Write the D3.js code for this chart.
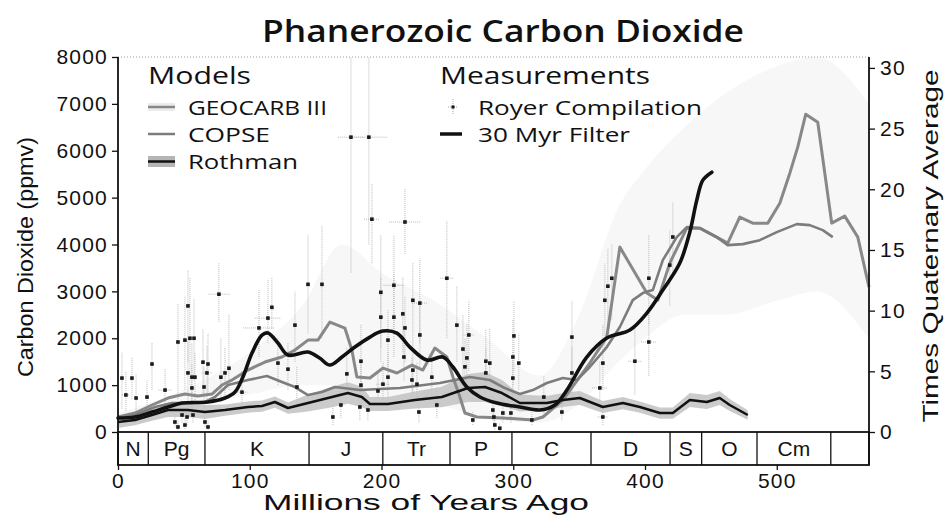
<!DOCTYPE html>
<html>
<head>
<meta charset="utf-8">
<script src="https://cdn.jsdelivr.net/npm/d3@7/dist/d3.min.js"></script>
<style>
  body { margin: 0; background: #fff; }
  text { fill: #111; }
  .tick text { font-family: "Liberation Sans", Arial, sans-serif; font-size: 21px; }
</style>
</head>
<body>
<svg id="chart" width="947" height="516"></svg>
<script>
// ---- data ----
var geoAge = [0,12.9,25.8,37.9,50.8,60.7,71.3,78.9,86.5,98.6,111.5,124.4,134.3,144.2,151.7,160.8,172.2,177.5,181.3,191.2,201.1,211.7,223.1,231.4,240.5,249.6,254.2,259.5,263.3,272.4,292.1,314.9,322.5,337.6,358.1,371,380.9,401.4,409.7,418.8,431.7,441.6,462.8,471.9,481.8,493.2,502.3,509.9,515.9,522,531.1,541.7,551.6,561.5,570];
var geoCO2 = [320,405,576,725,810,768,810,1002,1109,1322,1492,1599,1748,1961,1961,2345,2217,1748,1173,1151,1364,1258,1428,1322,1791,1599,1173,746,405,320,298,256,320,682,1471,2025,3944,2963,2814,3603,4349,4349,4029,4584,4456,4456,4882,5522,6076,6780,6609,4456,4605,4157,3091];

var copseAge = [0,12.9,28.1,41,56.1,66,73.6,83.5,98.6,113,124.4,134.3,144.2,154.8,164.6,183.6,214,244.3,267.1,282.2,293.6,305,314.9,325.5,337.6,348.3,358.1,371,380.9,390.7,398.3,405.9,413.5,424.1,431.7,441.6,454.5,462.8,474.2,487.1,500,515.2,525,534.9,542.5];
var copseCO2 = [298,362,533,618,618,640,746,1002,1109,1194,1066,959,789,853,959,895,938,1045,1173,1109,938,810,895,1045,1151,1109,1386,1812,2239,2814,2963,3027,3667,4157,4371,4349,4157,3987,4008,4093,4264,4435,4413,4307,4157];

var rothAge = [0,12.9,25.8,37.9,53.1,66,81.2,98.6,109.3,119.1,129,144.2,162.4,174.5,185.1,191.2,204.9,225.3,245.8,265.6,278.5,291.4,305,325.5,337.6,350.5,368,383.2,396.1,411.2,421.1,434,446.9,456.7,464.3,478];
var rothCO2 = [213,256,362,469,469,426,469,533,554,640,512,618,746,831,746,597,597,682,746,938,959,831,618,618,682,725,533,618,533,405,405,682,640,725,576,362];
var rothErr = [130,110,120,150,150,150,120,120,120,120,120,180,220,230,220,150,150,180,220,300,320,280,180,150,150,150,130,130,120,120,120,150,150,150,130,100];

var filtAge = [0,12.9,25.8,37.9,48.6,68.3,81.2,88.8,94.8,101.7,109.3,113.8,121.4,129,144.2,153,160.8,170,179.8,191.2,201,211.7,221.5,234.4,246.6,254.2,264.8,274.7,287.6,305,320.2,331.6,340.7,355.8,371,388.5,401.4,413.5,426.4,434,439.3,443.9,450.7];
var filtCO2 = [298,320,426,533,618,640,725,853,1173,1684,2068,2111,1897,1642,1706,1578,1428,1600,1812,2025,2153,2111,1812,1535,1599,1386,959,746,618,533,469,576,895,1599,2004,2175,2537,3027,3603,4264,4946,5373,5543];

// faint GEOCARB uncertainty envelope
var envAge = [0,50,100,140,170,200,240,280,320,350,380,400,430,460,500,530,570];
var envLo  = [250,500,800,1000,1000,700,600,300,200,600,1500,2000,2500,2500,2800,3000,2000];
var envHi  = [400,900,1700,2700,4000,3400,2800,2000,1200,2500,4800,5600,6500,7200,7800,8000,7000];

// Royer compilation: [age, co2, low, high, age error]
var royer = [
  [3,1150,500,1700,0],[10.6,1150,700,1600,0],[6,790,450,1300,3],[13.7,725,400,1250,0],[22,745,450,1100,0],
  [25.8,1450,900,1900,0],[35.7,895,550,1350,5],[45.5,1920,700,2750,0],[50.8,1960,900,2900,0],[53.1,2690,1500,3450,0],
  [54.6,2000,1000,3300,0],[57.7,2000,1100,2850,0],[53.1,1260,650,2000,0],[56.1,1170,500,1900,0],[58.4,1170,600,1700,0],
  [56.1,940,450,1450,0],[64.5,1490,800,2200,0],[68.3,1450,850,2100,0],[65.3,960,500,1400,0],[67.5,1260,700,1850,4],
  [76.6,2940,2350,3600,8],[78.1,1170,650,2000,0],[81.2,1260,700,1800,0],[84.2,1360,900,2500,0],[94.1,850,600,1300,4],
  [107,2220,1600,3050,12],[113.8,2430,1900,3250,10],[116.8,2660,2200,3300,0],[121.4,1470,1000,2000,0],[129,1340,900,1900,0],
  [134.3,2280,1500,3000,0],[135.8,960,600,1400,0],[144.2,3150,2100,4200,0],[154.8,3150,2000,4400,0],[176.8,6290,3400,8000,10],
  [190.4,6290,4000,8000,14],[192.7,4540,3600,5300,6],[217.8,4480,3800,5200,12],[249.6,3280,2000,4500,5],[199.5,2980,1800,4200,0],
  [209.4,3130,2200,4200,8],[199.5,2450,1500,3300,0],[209.4,2450,1600,3400,0],[216.2,2520,1700,3300,0],[223.8,2810,2000,3600,0],
  [229.1,2750,1900,3700,6],[217.8,2220,1500,2900,0],[204.9,1960,1300,2600,0],[217,1600,1100,2200,0],[184.4,1510,900,2300,0],
  [173.7,1240,800,1800,0],[184.4,1000,600,1500,0],[201.1,1020,600,1500,5],[197.3,875,500,1300,0],[204.9,1170,700,1700,0],
  [223.8,1320,800,2000,0],[223.1,1110,700,1600,0],[226.9,1020,600,1500,0],[238.2,1170,700,1700,0],[229.1,2070,1400,2800,0],
  [257.2,2280,1500,3100,0],[266.3,2070,1300,2800,4],[261.8,1770,1100,2500,0],[264.8,1580,1000,2300,0],[263.3,1390,900,2000,0],
  [279.2,1510,1000,2200,0],[282.2,1470,900,2200,0],[279.2,1260,800,1800,0],[300.5,2050,1300,2800,0],[299.7,1600,1000,2400,0],
  [304.2,1470,900,2100,0],[299.7,1150,700,1700,0],[163.1,320,150,600,0],[169.2,576,300,900,0],[183.6,533,250,900,0],
  [189.7,469,250,800,0],[228.4,426,200,800,0],[242,576,300,950,0],[269.3,256,150,450,0],[284.5,469,250,800,0],
  [285.3,320,150,550,0],[292.1,405,200,700,0],[298.2,405,200,650,0],[286,150,60,300,0],[289.8,80,30,200,0],
  [314.1,256,150,450,0],[344.5,2025,1100,2800,0],[344.5,1260,800,1800,0],[323.2,746,400,1200,0],[336.9,426,250,700,0],
  [365.7,940,500,1500,6],[368,1470,900,2300,0],[368,320,150,500,4],[371.8,3110,2000,3900,0],[374.8,3280,2400,4000,0],
  [369.5,2810,1800,3600,0],[392.3,1510,800,2300,5],[402.9,1920,1200,2600,6],[402.9,3280,2300,4200,0],[421.1,4160,3400,4900,0],
  [418.8,3560,2700,4300,0],[43.2,213,100,400,0],[45.5,107,50,250,0],[50.8,149,60,300,0],[52.4,320,150,500,0],
  [56.9,362,200,550,0],[66,213,100,400,0],[68.3,107,50,250,0],[48.6,362,200,550,0]
];

var periodNames  = ["N","Pg","K","J","Tr","P","C","D","S","O","Cm"];
var periodStarts = [0,23,66,145,201,252,299,359,419,443,485,541];

var xTicks = [0,100,200,300,400,500];
var yTicks = [0,1000,2000,3000,4000,5000,6000,7000,8000];
var rTicks = [0,5,10,15,20,25,30];

// ---- scales ----
var svg = d3.select("#chart");
var x = d3.scaleLinear().domain([0, 570]).range([118, 869]);
var y = d3.scaleLinear().domain([0, 8000]).range([432, 57]);
var yR = d3.scaleLinear().domain([0, 30.9]).range([432, 57]);
var boxBottom = 465;

function pts(a, b) { return a.map(function(d, i){ return [d, b[i]]; }); }
var line = d3.line().x(function(d){ return x(d[0]); }).y(function(d){ return y(d[1]); });

// faint envelope
svg.append("path")
  .datum(envAge.map(function(d,i){ return [d, envLo[i], envHi[i]]; }))
  .attr("d", d3.area().curve(d3.curveMonotoneX)
      .x(function(d){ return x(d[0]); })
      .y0(function(d){ return y(d[1]); })
      .y1(function(d){ return y(d[2]); }))
  .attr("fill", "#f7f7f7");

// top dotted border
svg.append("line").attr("x1", x(0)).attr("x2", x(570)).attr("y1", 57).attr("y2", 57)
  .attr("stroke", "#999").attr("stroke-dasharray", "1,2");

// royer error bars
var eb = svg.append("g").attr("stroke", "#b8b8b8").attr("stroke-width", 1).attr("stroke-dasharray", "1,1");
royer.forEach(function(r){
  eb.append("line").attr("x1", x(r[0])).attr("x2", x(r[0])).attr("y1", y(r[2])).attr("y2", y(r[3]));
  if (r[4] > 0) {
    eb.append("line").attr("x1", x(r[0]-r[4])).attr("x2", x(r[0]+r[4])).attr("y1", y(r[1])).attr("y2", y(r[1]));
  }
});

// rothman band
svg.append("path")
  .datum(rothAge.map(function(d,i){ return [d, rothCO2[i], rothErr[i]]; }))
  .attr("d", d3.area()
      .x(function(d){ return x(d[0]); })
      .y0(function(d){ return y(d[1]-d[2]); })
      .y1(function(d){ return y(d[1]+d[2]); }))
  .attr("fill", "#c2c2c2").attr("opacity", 0.85);

// model lines
svg.append("path").datum(pts(geoAge, geoCO2)).attr("d", line)
  .attr("fill", "none").attr("stroke", "#888").attr("stroke-width", 3).attr("stroke-linejoin", "round");
svg.append("path").datum(pts(copseAge, copseCO2)).attr("d", line)
  .attr("fill", "none").attr("stroke", "#7c7c7c").attr("stroke-width", 2.6).attr("stroke-linejoin", "round");
svg.append("path").datum(pts(rothAge, rothCO2)).attr("d", line)
  .attr("fill", "none").attr("stroke", "#111").attr("stroke-width", 2.5).attr("stroke-linejoin", "round");

// royer points
svg.append("g").selectAll("rect").data(royer).enter().append("rect")
  .attr("x", function(d){ return x(d[0]) - 1.8; })
  .attr("y", function(d){ return y(d[1]) - 1.8; })
  .attr("width", 3.6).attr("height", 3.6).attr("fill", "#1a1a1a");

// 30 Myr filter
svg.append("path").datum(pts(filtAge, filtCO2))
  .attr("d", line.curve(d3.curveCatmullRom.alpha(0.5)))
  .attr("fill", "none").attr("stroke", "#111").attr("stroke-width", 3.6).attr("stroke-linecap", "round");

// period box
var pb = svg.append("g");
pb.append("rect").attr("x", x(0)).attr("y", y(0)).attr("width", x(570) - x(0)).attr("height", boxBottom - y(0))
  .attr("fill", "none").attr("stroke", "#111").attr("stroke-width", 1.8);
periodStarts.slice(1).forEach(function(s){
  pb.append("line").attr("x1", x(s)).attr("x2", x(s)).attr("y1", y(0)).attr("y2", boxBottom)
    .attr("stroke", "#111").attr("stroke-width", 1.3);
});
periodNames.forEach(function(n, i){
  pb.append("text").attr("x", (x(periodStarts[i]) + x(periodStarts[i+1])) / 2).attr("y", 456)
    .attr("text-anchor", "middle")
    .style("font-family", "Liberation Sans, Arial, sans-serif").style("font-size", "21px")
    .text(n);
});

// axes
var ax = svg.append("g").attr("transform", "translate(" + x(0) + ",0)")
  .call(d3.axisLeft(y).tickValues(yTicks).tickFormat(d3.format("d")).tickSize(6).tickSizeOuter(0).tickPadding(4));
var ar = svg.append("g").attr("transform", "translate(" + x(570) + ",0)")
  .call(d3.axisRight(yR).tickValues(rTicks).tickFormat(d3.format("d")).tickSize(6).tickSizeOuter(0).tickPadding(5));
var ab = svg.append("g").attr("transform", "translate(0," + boxBottom + ")")
  .call(d3.axisBottom(x).tickValues(xTicks).tickFormat(d3.format("d")).tickSize(5).tickSizeOuter(0).tickPadding(3));
ab.select(".domain").remove();
[ax, ar].forEach(function(g){
  g.select(".domain").attr("stroke", "#111").attr("stroke-width", 1.8)
    .attr("d", "M0,57V" + boxBottom);
});
svg.selectAll(".tick line").attr("stroke", "#111").attr("stroke-width", 1.3);
svg.selectAll(".tick text").attr("fill", "#111").style("letter-spacing", "1.2px");

// titles
svg.append("text").attr("x", 503).attr("y", 42).attr("text-anchor", "middle")
  .style("font-family", "Open Sans, sans-serif").style("font-size", "31px").style("font-weight", "600")
  .attr("textLength", 482).attr("lengthAdjust", "spacingAndGlyphs")
  .text("Phanerozoic Carbon Dioxide");
svg.append("text").attr("transform", "translate(33,257) rotate(-90)").attr("text-anchor", "middle")
  .style("font-family", "Liberation Sans, Arial, sans-serif").style("font-size", "22px")
  .attr("textLength", 240).attr("lengthAdjust", "spacingAndGlyphs")
  .text("Carbon Dioxide (ppmv)");
svg.append("text").attr("transform", "translate(938,246) rotate(-90)").attr("text-anchor", "middle")
  .style("font-family", "Liberation Sans, Arial, sans-serif").style("font-size", "22px")
  .attr("textLength", 353).attr("lengthAdjust", "spacingAndGlyphs")
  .text("Times Quaternary Average");
svg.append("text").attr("x", 426).attr("y", 510).attr("text-anchor", "middle")
  .style("font-family", "Liberation Sans, Arial, sans-serif").style("font-size", "22px")
  .attr("textLength", 326).attr("lengthAdjust", "spacingAndGlyphs")
  .text("Millions of Years Ago");

// legend
var lg = svg.append("g").style("font-family", "Open Sans, sans-serif").style("font-weight", "500");
function ltext(tx, ty, s, size, len) {
  lg.append("text").attr("x", tx).attr("y", ty).style("font-size", size + "px")
    .attr("textLength", len).attr("lengthAdjust", "spacingAndGlyphs").text(s);
}
ltext(148, 84, "Models", 23, 103);
ltext(440, 84, "Measurements", 23, 210);
ltext(188, 115, "GEOCARB III", 20, 139);
ltext(188, 142, "COPSE", 20, 82);
ltext(188, 169, "Rothman", 20, 110);
ltext(478, 115, "Royer Compilation", 20, 224);
ltext(478, 142, "30 Myr Filter", 20, 152);

lg.append("rect").attr("x", 148).attr("y", 103).attr("width", 27).attr("height", 8).attr("fill", "#ececec");
lg.append("line").attr("x1", 148).attr("x2", 175).attr("y1", 107).attr("y2", 107).attr("stroke", "#888").attr("stroke-width", 2.5);
lg.append("line").attr("x1", 148).attr("x2", 175).attr("y1", 134).attr("y2", 134).attr("stroke", "#7c7c7c").attr("stroke-width", 2.5);
lg.append("rect").attr("x", 148).attr("y", 156).attr("width", 27).attr("height", 11).attr("fill", "#b5b5b5");
lg.append("line").attr("x1", 148).attr("x2", 175).attr("y1", 161.5).attr("y2", 161.5).attr("stroke", "#111").attr("stroke-width", 2.5);
lg.append("line").attr("x1", 453).attr("x2", 453).attr("y1", 99).attr("y2", 115).attr("stroke", "#aaa").attr("stroke-dasharray", "1,1");
lg.append("line").attr("x1", 448).attr("x2", 458).attr("y1", 107).attr("y2", 107).attr("stroke", "#aaa").attr("stroke-dasharray", "1,1");
lg.append("rect").attr("x", 451.5).attr("y", 105.5).attr("width", 3).attr("height", 3).attr("fill", "#111");
lg.append("line").attr("x1", 440).attr("x2", 462).attr("y1", 134).attr("y2", 134).attr("stroke", "#111").attr("stroke-width", 3.5);
</script>
</body>
</html>
